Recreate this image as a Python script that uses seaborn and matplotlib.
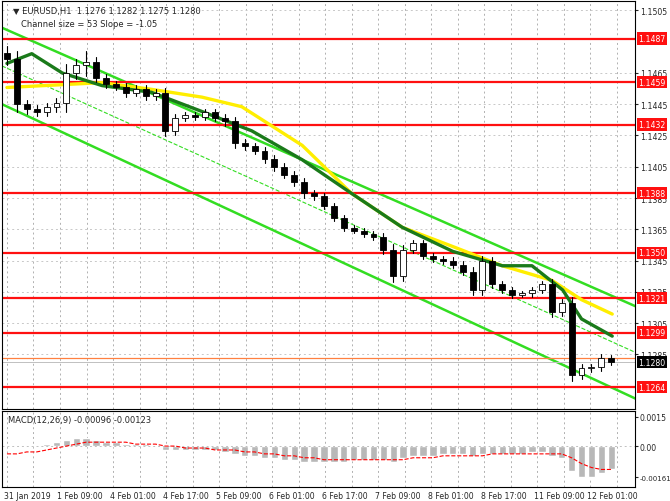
import matplotlib
matplotlib.use("Agg")
import matplotlib.pyplot as plt
import seaborn as sns
import numpy as np

sns.set_style("white")
plt.rcParams['font.family'] = ['DejaVu Sans']

closes = [1.1474,1.1445,1.1442,1.1440,1.1443,1.1446,1.1465,1.1470,1.1472,1.1462,
          1.1458,1.1456,1.1452,1.1455,1.1450,1.1452,1.1428,1.1436,1.1438,1.1437,
          1.1440,1.1436,1.1434,1.1420,1.1418,1.1415,1.1410,1.1405,1.1400,1.1395,
          1.1388,1.1386,1.1380,1.1372,1.1366,1.1364,1.1362,1.1360,1.1352,1.1335,
          1.1352,1.1356,1.1348,1.1346,1.1345,1.1342,1.1338,1.1326,1.1345,1.1330,
          1.1326,1.1323,1.1324,1.1326,1.1330,1.1312,1.1318,1.1272,1.1276,1.1277,
          1.1283,1.1280]
opens = [1.1478] + closes[:-1]
wick = [0.0008,0.0010,0.0006,0.0005,0.0005,0.0006,0.0012,0.0008,0.0014,0.0006,
        0.0005,0.0004,0.0005,0.0004,0.0004,0.0005,0.0007,0.0005,0.0004,0.0004,
        0.0004,0.0004,0.0006,0.0006,0.0005,0.0004,0.0005,0.0005,0.0005,0.0005,
        0.0006,0.0004,0.0004,0.0004,0.0004,0.0003,0.0004,0.0004,0.0005,0.0007,
        0.0006,0.0004,0.0004,0.0004,0.0004,0.0004,0.0005,0.0006,0.0006,0.0005,
        0.0004,0.0004,0.0003,0.0004,0.0004,0.0006,0.0005,0.0008,0.0006,0.0004,
        0.0005,0.0003]

ma_slow_x = [0,9.6,14.6,19.7,23.7,29.8,34.8,39.9,45,50,55,58,61.1]
ma_slow_y = [1.14557,1.14588,1.14545,1.14495,1.14434,1.14187,1.13879,1.13663,1.1354,1.13417,1.13324,1.1320,1.13108]
ma_fast_x = [0,2.5,5.6,9.6,14.6,19.7,24.7,29.8,34.8,39.9,45,50,53,56.1,58,61.1]
ma_fast_y = [1.14711,1.14773,1.14649,1.14569,1.14526,1.14403,1.14280,1.14095,1.13879,1.13663,1.13509,1.13417,1.13417,1.13262,1.13077,1.12967]

chan_x = [-0.5, 63.7]
chan_up = [1.14939, 1.13151]
chan_lo = [1.14450, 1.12560]

levels = [1.1487,1.1459,1.1432,1.1388,1.1350,1.1321,1.1299,1.1264]
price_ticks = [1.1505,1.1465,1.1445,1.1425,1.1405,1.1385,1.1365,1.1345,1.1325,1.1305,1.1285]

macd_hist = [0.0000,0.0000,0.0000,0.0000,0.0001,0.0002,0.0003,0.0004,0.0004,0.0003,
             0.0002,0.0002,0.0001,0.0001,0.0001,0.0000,-0.0002,-0.0002,-0.0002,-0.0002,
             -0.0002,-0.0002,-0.0003,-0.0004,-0.0005,-0.0005,-0.0006,-0.0006,-0.0007,-0.0007,
             -0.0008,-0.0008,-0.0008,-0.0008,-0.0008,-0.0007,-0.0007,-0.0007,-0.0007,-0.0008,
             -0.0006,-0.0005,-0.0005,-0.0005,-0.0004,-0.0004,-0.0004,-0.0005,-0.0004,-0.0004,
             -0.0004,-0.0004,-0.0004,-0.0003,-0.0003,-0.0005,-0.0006,-0.0013,-0.0016,-0.0016,
             -0.0014,-0.0012]
macd_sig = [-0.0004,-0.0004,-0.0003,-0.0003,-0.0002,-0.0001,0.0000,0.0001,0.0002,0.0002,
            0.0002,0.0002,0.0002,0.0001,0.0001,0.0001,0.0000,0.0000,-0.0001,-0.0001,
            -0.0001,-0.0002,-0.0002,-0.0002,-0.0003,-0.0003,-0.0004,-0.0004,-0.0005,-0.0005,
            -0.0006,-0.0006,-0.0007,-0.0007,-0.0007,-0.0007,-0.0007,-0.0007,-0.0007,-0.0007,
            -0.0007,-0.0006,-0.0006,-0.0006,-0.0005,-0.0005,-0.0005,-0.0005,-0.0005,-0.0004,
            -0.0004,-0.0004,-0.0004,-0.0004,-0.0004,-0.0004,-0.0004,-0.0006,-0.0009,-0.0011,
            -0.0012,-0.0012]

date_labels = ["31 Jan 2019","1 Feb 09:00","4 Feb 01:00","4 Feb 17:00","5 Feb 09:00",
               "6 Feb 01:00","6 Feb 17:00","7 Feb 09:00","8 Feb 01:00","8 Feb 17:00",
               "11 Feb 09:00","12 Feb 01:00"]

W, H = 670, 502
FS = 5.6
fig = plt.figure(figsize=(6.7, 5.02), dpi=100)
axw = 633 / W
ax = fig.add_axes([0.003, 1 - 410 / H, axw, 408 / H])
axm = fig.add_axes([0.003, 1 - 488 / H, axw, 76 / H])
XL = (-0.5, 63.4)
for a in (ax, axm):
    a.set_xlim(*XL)
    a.yaxis.tick_right()
    a.tick_params(axis='y', labelsize=FS, length=2, pad=1.5)
    for s in a.spines.values():
        s.set_color('black'); s.set_linewidth(0.8)
    a.set_xticks([])
    for k in range(25):
        a.axvline(k * 2.677, color='#b0b0b0', ls=(0, (2, 3)), lw=0.7, zorder=0)

ax.set_ylim(1.12501, 1.1511)
ax.set_yticks(price_ticks)
ax.set_yticklabels([f"{t:.4f}" for t in price_ticks])
for t in price_ticks:
    ax.axhline(t, color='#c8c8c8', ls=(0, (2, 3)), lw=0.7, zorder=0)

sns.lineplot(x=chan_x, y=chan_up, ax=ax, color='#33dd22', lw=1.8)
sns.lineplot(x=chan_x, y=chan_lo, ax=ax, color='#33dd22', lw=1.8)
sns.lineplot(x=chan_x, y=[(u + l) / 2 for u, l in zip(chan_up, chan_lo)], ax=ax,
             color='#33dd22', lw=0.8, ls='--')

for lv in levels:
    ax.axhline(lv, color='#ff1010', lw=1.6, zorder=2)
    ax.annotate(f"{lv:.4f}", xy=(1, lv), xycoords=('axes fraction', 'data'),
                xytext=(2.5, 0), textcoords='offset points', va='center', ha='left',
                fontsize=FS, color='white', zorder=10,
                bbox=dict(boxstyle='square,pad=0.2', fc='#ff1010', ec='none'))
ax.axhline(1.1283, color='#ff8040', lw=0.9)
ax.axhline(1.1280, color='#c0c0c0', lw=0.7)
ax.annotate("1.1280", xy=(1, 1.1280), xycoords=('axes fraction', 'data'),
            xytext=(2.5, 0), textcoords='offset points', va='center', ha='left',
            fontsize=FS, color='white', zorder=10,
            bbox=dict(boxstyle='square,pad=0.2', fc='black', ec='none'))

sns.lineplot(x=ma_slow_x, y=ma_slow_y, ax=ax, color='#ffee00', lw=2.4)
sns.lineplot(x=ma_fast_x, y=ma_fast_y, ax=ax, color='#1a7a1a', lw=2.4)

for i, (o, c, w) in enumerate(zip(opens, closes, wick)):
    hi = max(o, c) + w / 2; lo = min(o, c) - w / 2
    ax.plot([i, i], [lo, hi], color='black', lw=0.8, zorder=4)
    b = max(abs(c - o), 0.00005)
    ax.add_patch(plt.Rectangle((i - 0.3, min(o, c)), 0.6, b, fc='white' if c >= o else 'black',
                               ec='black', lw=0.6, zorder=5))

ax.text(0.018, 0.988, "▼ EURUSD,H1  1.1276 1.1282 1.1275 1.1280", transform=ax.transAxes,
        fontsize=FS + 0.4, va='top')
ax.text(0.03, 0.955, "Channel size = 53 Slope = -1.05", transform=ax.transAxes,
        fontsize=FS + 0.4, va='top')

axm.set_ylim(-0.0021, 0.0018)
axm.set_yticks([0.0015, 0.0, -0.00161])
axm.set_yticklabels(["0.0015", "0.00", "-0.00161"])
axm.get_yticklabels()[2].set_fontsize(5.0)
axm.axhline(0, color='#c0c0c0', ls=(0, (2, 3)), lw=0.7)
axm.bar(range(len(macd_hist)), macd_hist, width=0.75, color='#b8b8b8')
sns.lineplot(x=list(range(len(macd_sig))), y=macd_sig, ax=axm, color='red', lw=0.8, ls='--')
axm.text(0.01, 0.95, "MACD(12,26,9) -0.00096 -0.00123", transform=axm.transAxes,
         fontsize=FS + 0.4, va='top')
axm.set_xlim(*XL)
tick_pos = [-0.3] + [(2 + 53 * k - 5) / 9.9 for k in range(1, len(date_labels))]
axm.set_xticks(tick_pos)
axm.set_xticklabels(date_labels, fontsize=FS, ha='left')
axm.tick_params(axis='x', length=0, pad=3)
ax.set_xlim(*XL)

fig.savefig("out.png", dpi=100, facecolor='white')
